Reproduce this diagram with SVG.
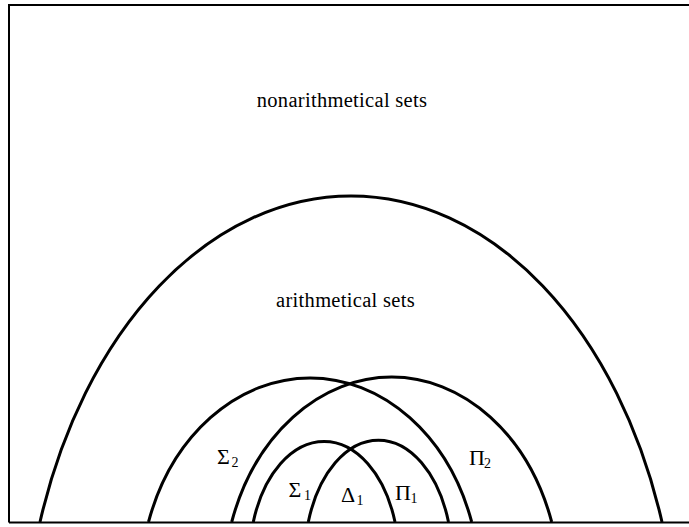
<svg xmlns="http://www.w3.org/2000/svg" width="689" height="527" viewBox="0 0 689 527">
<style>
.frame{stroke:#000;stroke-width:2;fill:none}
.arc{stroke:#000;stroke-width:3;fill:none}
.big{font-family:"Liberation Serif","Times New Roman",serif;font-size:20.5px;letter-spacing:0.3px;fill:#000;text-anchor:middle}
.lab{font-family:"Liberation Serif","Times New Roman",serif;font-size:22px;fill:#000}
.sub{font-size:14px}
</style>
<rect width="689" height="527" fill="#fff"/>
<g id="frame">
<path class="frame" d="M9 522.5 V5 H689 M9 522.5 H689"/>
</g>
<g id="connectors">
<path id="arith" class="arc" d="M40 522 A327.7 476 0 0 1 662 522"/>
<path id="sigma2" class="arc" d="M148.5 522 A170.2 210 0 0 1 471.7 522"/>
<path id="pi2" class="arc" d="M231.7 522 A168.6 211.7 0 0 1 551.7 522"/>
<path id="sigma1" class="arc" d="M253.3 522 A74.6 117.3 0 0 1 395 522"/>
<path id="pi1" class="arc" d="M308.3 522 A73.9 119.7 0 0 1 448.5 522"/>
</g>
<g id="nonarithmetical"><text class="big" x="342" y="107">nonarithmetical sets</text></g>
<g id="arithmetical"><text class="big" x="345.5" y="307">arithmetical sets</text></g>
<g id="Sigma2"><text class="lab" x="217" y="464">Σ<tspan class="sub" x="231.5" y="467">2</tspan></text></g>
<g id="Pi2"><text class="lab" x="469" y="465">Π<tspan class="sub" x="484" y="467.5">2</tspan></text></g>
<g id="Sigma1"><text class="lab" x="288.5" y="497">Σ<tspan class="sub" x="304" y="500">1</tspan></text></g>
<g id="Delta1"><text class="lab" x="341" y="502">Δ<tspan class="sub" x="356.5" y="504.5">1</tspan></text></g>
<g id="Pi1"><text class="lab" x="395" y="500">Π<tspan class="sub" x="410.5" y="502.5">1</tspan></text></g>
</svg>
